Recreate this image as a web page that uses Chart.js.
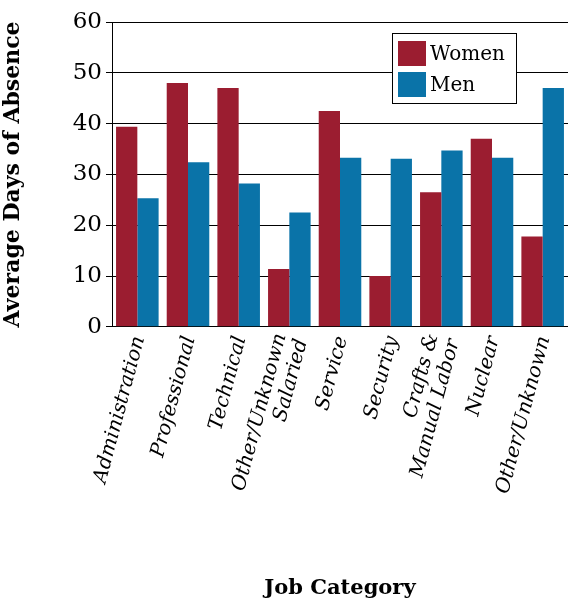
<!DOCTYPE html>
<html>
<head>
<meta charset="utf-8">
<script src="https://cdn.jsdelivr.net/npm/chart.js@4"></script>
<style>
  body { margin: 0; background: #fff; }
  #wrap { width: 568px; height: 601px; }
</style>
</head>
<body>
<div id="wrap"><canvas id="myChart"></canvas></div>
<script>
const categories = [
  ['Administration'], ['Professional'], ['Technical'], ['Other/Unknown', 'Salaried'],
  ['Service'], ['Security'], ['Crafts &', 'Manual Labor'], ['Nuclear'], ['Other/Unknown']
];
const women = [39.4, 48, 47, 11.4, 42.5, 10, 26.5, 37, 17.8];
const men = [25.3, 32.4, 28.2, 22.5, 33.3, 33.1, 34.7, 33.3, 47];
const yTicks = [0, 10, 20, 30, 40, 50, 60];

const FONT = "'DejaVu Serif', serif";

// labels rotated up-right, drawn by hand since Chart.js only rotates downward
const xLabels = {
  id: 'xLabels',
  afterDraw(chart) {
    const ctx = chart.ctx, xs = chart.scales.x, top = chart.chartArea.bottom + 10;
    ctx.save();
    ctx.font = "italic 20px " + FONT;
    ctx.fillStyle = '#000';
    ctx.textAlign = 'right';
    ctx.textBaseline = 'middle';
    categories.forEach((lines, i) => {
      const x = xs.getPixelForTick(i);
      ctx.save();
      ctx.translate(x + 2, top);
      ctx.rotate(-75 * Math.PI / 180);
      const n = lines.length;
      lines.forEach((l, j) => {
        ctx.fillText(l, 0, (j - (n - 1) / 2) * 22);
      });
      ctx.restore();
    });
    ctx.restore();
  }
};

const legendBox = {
  id: 'legendBox',
  afterDraw(chart) {
    const ctx = chart.ctx;
    const x0 = 392, y0 = 33, w = 124, h = 70;
    ctx.save();
    ctx.fillStyle = '#fff';
    ctx.fillRect(x0, y0, w, h);
    ctx.strokeStyle = '#000';
    ctx.lineWidth = 1;
    ctx.strokeRect(x0 + 0.5, y0 + 0.5, w, h);
    ctx.font = "20px " + FONT;
    ctx.textBaseline = 'middle';
    chart.data.datasets.forEach((ds, i) => {
      const y = y0 + 8 + i * 31;
      ctx.fillStyle = ds.backgroundColor;
      ctx.fillRect(x0 + 6, y, 28, 25);
      ctx.fillStyle = '#000';
      ctx.fillText(ds.label, x0 + 38, y + 14);
    });
    ctx.restore();
  }
};

new Chart(document.getElementById('myChart'), {
  type: 'bar',
  data: {
    labels: categories.map(c => c.join(' ')),
    datasets: [
      { label: 'Women', data: women, backgroundColor: '#9b1d30' },
      { label: 'Men', data: men, backgroundColor: '#0a73a8' }
    ]
  },
  options: {
    responsive: true,
    maintainAspectRatio: false,
    animation: false,
    layout: { padding: { top: 22, right: 0 } },
    plugins: { legend: { display: false }, tooltip: { enabled: false } },
    datasets: { bar: { categoryPercentage: 0.84, barPercentage: 1 } },
    scales: {
      x: {
        grid: { display: false },
        border: { color: '#000' },
        ticks: { display: false },
        title: {
          display: true, text: 'Job Category', color: '#000',
          font: { family: FONT, size: 21, weight: 'bold' },
          padding: { top: 241, bottom: 0 }
        }
      },
      y: {
        min: 0, max: 60,
        afterBuildTicks(s) { s.ticks = yTicks.map(v => ({ value: v })); },
        afterFit(s) { s.width = 112; },
        grid: { color: '#000', drawTicks: true, tickLength: 6 },
        border: { color: '#000' },
        ticks: { color: '#000', font: { family: FONT, size: 23 }, padding: 4 },
        title: {
          display: true, text: 'Average Days of Absence', color: '#000',
          font: { family: FONT, size: 22, weight: 'bold' }, padding: { top: 0, bottom: 4 }
        }
      }
    }
  },
  plugins: [xLabels, legendBox]
});
</script>
</body>
</html>
